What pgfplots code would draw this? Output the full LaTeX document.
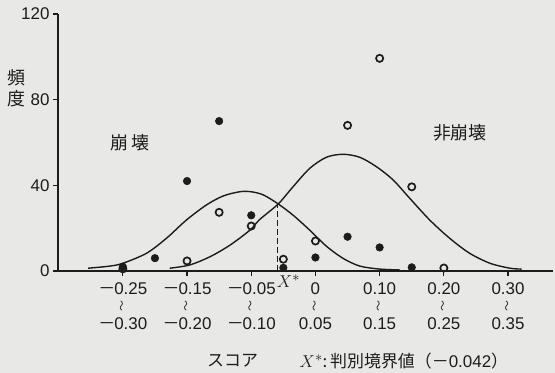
\documentclass[border=0pt]{standalone}
\usepackage{graphicx}
\usepackage{pgfplots}
\pgfplotsset{compat=1.18}
\usepackage{fontspec}
\setmainfont{Liberation Sans}
\newfontfamily\cjk{Noto Sans CJK JP}
\definecolor{bg}{RGB}{232,232,230}
\definecolor{ink}{RGB}{28,28,28}
\newcommand\mn{{\cjk －}\kern-1bp}
\newcommand\lab[2]{\begin{tabular}{@{}c@{}}#1\\\raisebox{1bp}{\rotatebox{90}{\fontsize{11}{11}\selectfont\cjk ～}}\\#2\end{tabular}}
\begin{document}
\begin{tikzpicture}
\path[use as bounding box, fill=bg] (0,0) rectangle (555bp,373bp);
\begin{axis}[
  at={(58bp,102bp)}, anchor=south west,
  scale only axis, width=495bp, height=257bp,
  xmin=-1.01, xmax=6.70, ymin=0, ymax=120,
  axis x line=bottom, axis y line=left,
  axis line style={-, line width=1.6bp, ink},
  ytick={0,40,80,120},
  xtick={0,1,2,3,4,5,6},
  xticklabels={\lab{\mn0.25}{\mn0.30},\lab{\mn0.15}{\mn0.20},\lab{\mn0.05}{\mn0.10},\lab{0}{0.05},\lab{0.10}{0.15},\lab{0.20}{0.25},\lab{0.30}{0.35}},
  tick align=outside, major tick length=5bp,
  tick style={line width=1.2bp, ink},
  /pgf/number format/assume math mode=true,
  yticklabel style={font=\fontsize{17}{17}\selectfont, text=ink},
  xticklabel style={font=\fontsize{17}{18}\selectfont, text=ink, yshift=-2bp},
  clip=false,
]
% 崩壊 curve
\addplot[ink, line width=1.4bp, smooth] coordinates {
(-0.54,1.3) (-0.2,2.3) (0,3.6) (0.37,8.3) (0.68,15.3) (0.99,23.8) (1.30,30.8) (1.56,35) (1.82,37) (2.0,37)
(2.19,35.5) (2.42,31.3) (2.65,26.1) (2.91,19.1) (3.17,11.6) (3.43,5.9) (3.69,2.3) (4.0,0.9) (4.31,0.5)};
% 非崩壊 curve
\addplot[ink, line width=1.4bp, smooth] coordinates {
(0.73,1.3) (1.04,2.8) (1.36,6.7) (1.67,12.1) (1.98,19.1) (2.13,24) (2.42,31.3) (2.65,39.3) (2.91,47.9) (3.17,53.1)
(3.43,54.5) (3.69,53.1) (3.95,48.7) (4.21,42.5) (4.47,33.9) (4.78,23.8) (5.09,15.3) (5.40,8.3) (5.72,3.6) (6.03,1.3) (6.21,0.9)};
% boundary X*
\addplot[ink, line width=1.2bp, dash pattern=on 6bp off 3bp] coordinates {(2.414,0) (2.414,31.3)};
% 崩壊 (filled)
\addplot[only marks, mark=*, mark size=3.8bp, mark options={fill=ink, draw=ink, line width=0.5bp}] coordinates {
(0,2) (0.5,6) (1,42) (1.5,70) (2,26) (2.5,1.5) (3,6.3) (3.5,16) (4,11) (4.5,1.7)};
% 非崩壊 (open)
\addplot[only marks, mark=o, mark size=3.6bp, mark options={fill=bg, draw=ink, line width=1.7bp}] coordinates {
(0,1) (1,4.7) (1.5,27.4) (2,21) (2.5,5.5) (3,14) (3.5,68) (4,99.3) (4.5,39.3) (5,1.4)};
\node[font=\cjk\fontsize{18}{21}\selectfont, text=ink, align=center] at (axis cs:-1.65,85.5) {頻\\度};
\node[font=\cjk\fontsize{18}{18}\selectfont, text=ink] at (axis cs:0.11,59.7) {崩\hspace{3bp}壊};
\node[font=\cjk\fontsize{18}{18}\selectfont, text=ink] at (axis cs:5.25,64.4) {非崩壊};
\node[font=\fontsize{19}{19}\selectfont, text=ink, inner sep=0pt] at (axis cs:2.58,-4.9) {$X^{*}$};
\node[font=\cjk\fontsize{17}{17}\selectfont, text=ink] at (axis cs:1.71,-42) {スコア};
\node[font=\cjk\fontsize{17}{17}\selectfont, text=ink, anchor=west] at (axis cs:2.70,-42) {{\fontsize{19}{19}\selectfont$X^{*}$}:\,判別境界値（{\cjk －}{\fontspec{Liberation Sans}0.042}）};
\end{axis}
\end{tikzpicture}
\end{document}
